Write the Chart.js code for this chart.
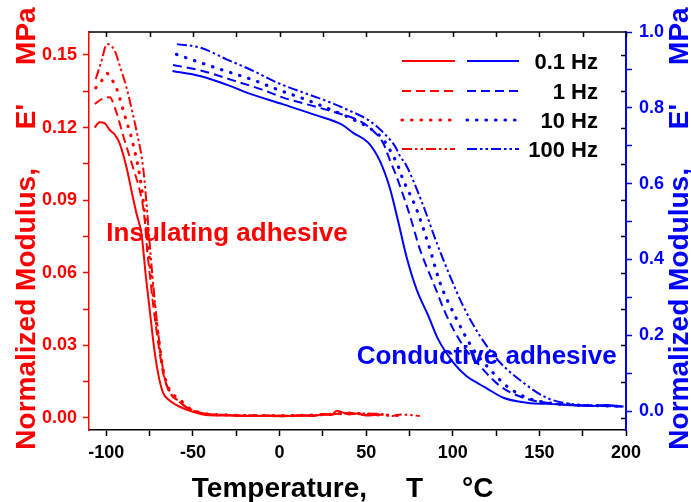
<!DOCTYPE html>
<html lang="en">
<head>
<meta charset="UTF-8">
<title>Normalized Modulus vs Temperature</title>
<script src="https://cdn.jsdelivr.net/npm/chart.js@4.4.1/dist/chart.umd.min.js"></script>
<style>
  html, body { margin: 0; padding: 0; background: #fff; }
  #chart { display: block; }
</style>
</head>
<body>
<canvas id="chart" width="691" height="502"></canvas>
<script>
// ---- data ----
// insulating adhesive (left axis, red)
var insT01 = [-106.7, -104, -101, -98, -95, -92.2, -88.4, -85.5, -82.6, -79.7, -78.6, -77.4, -75, -72.6, -70, -67.2, -64, -60, -55, -50, -45, -40, -30, -20, -10, 0, 10, 20, 25, 30, 33, 36, 40, 45, 50, 55];
var insE01 = [0.120, 0.1222, 0.1218, 0.119, 0.117, 0.1133, 0.1037, 0.094, 0.0845, 0.0762, 0.069, 0.060, 0.045, 0.030, 0.018, 0.0103, 0.0075, 0.0055, 0.0038, 0.0025, 0.0015, 0.0011, 0.0010, 0.0008, 0.0008, 0.0007, 0.0009, 0.0008, 0.0016, 0.0012, 0.0030, 0.0024, 0.0014, 0.0018, 0.0010, 0.0012];

var insT1 = [-106.7, -102, -98, -95, -93.2, -90, -86.5, -83.5, -80.7, -78, -76.5, -75, -73, -71, -69, -67, -65, -62, -58, -54, -50, -45, -40, -30, -20, -10, 0, 10, 20, 30, 40, 50, 60];
var insE1 = [0.1298, 0.1320, 0.1325, 0.128, 0.124, 0.116, 0.1078, 0.101, 0.094, 0.083, 0.070, 0.060, 0.047, 0.036, 0.026, 0.018, 0.013, 0.009, 0.007, 0.0045, 0.003, 0.002, 0.0015, 0.0012, 0.001, 0.001, 0.0009, 0.001, 0.0011, 0.0015, 0.002, 0.0012, 0.0013];

var insT10 = [-106.1, -103, -99.6, -97, -94.2, -89.4, -84.6, -79.7, -77.5, -75.5, -73.5, -71.5, -69.5, -67.5, -65, -62, -58, -54, -50, -45, -40, -30, -20, -10, 0, 10, 20, 30, 40, 50, 60, 70];
var insE10 = [0.1364, 0.139, 0.1424, 0.140, 0.1364, 0.125, 0.1133, 0.0954, 0.082, 0.068, 0.055, 0.042, 0.031, 0.021, 0.014, 0.010, 0.008, 0.005, 0.0032, 0.002, 0.0015, 0.0012, 0.001, 0.001, 0.0009, 0.001, 0.0012, 0.0015, 0.002, 0.0015, 0.0012, 0.001];

var insT100 = [-106.1, -103, -99.6, -95.2, -92, -88.4, -85.5, -82.6, -78.8, -76.5, -74.5, -72.5, -70.5, -68.5, -66.5, -63.5, -60, -55, -50, -45, -40, -30, -20, -10, 0, 10, 20, 30, 40, 50, 60, 65, 70, 75, 81];
var insE100 = [0.1401, 0.147, 0.1545, 0.1518, 0.145, 0.1367, 0.128, 0.1188, 0.1037, 0.086, 0.068, 0.052, 0.038, 0.026, 0.017, 0.011, 0.008, 0.005, 0.0032, 0.002, 0.0015, 0.0012, 0.001, 0.001, 0.0009, 0.001, 0.0012, 0.0015, 0.002, 0.0018, 0.0015, 0.0008, 0.0014, 0.0012, 0.0008];

// conductive adhesive (right axis, blue)
var conT01 = [-61.8, -46, -28.7, -19, 2.1, 21.4, 35.8, 42.5, 51.2, 57.9, 63.7, 68.5, 73.4, 79.1, 85.9, 91.6, 100.3, 108, 115.7, 119.6, 129.2, 142.7, 160, 179.3, 188, 198.6];
var conE01 = [0.897, 0.884, 0.858, 0.840, 0.809, 0.780, 0.756, 0.734, 0.708, 0.660, 0.588, 0.500, 0.405, 0.321, 0.251, 0.189, 0.128, 0.092, 0.070, 0.060, 0.035, 0.022, 0.018, 0.013, 0.016, 0.012];

var conT1 = [-61.5, -45, -28.7, -10, 2.1, 20, 32.9, 44, 50.2, 55, 59.8, 63.7, 66.6, 69.5, 75.3, 81, 88.7, 96.5, 106, 115.7, 127.3, 140.7, 154.2, 170, 185, 199];
var conE1 = [0.913, 0.898, 0.875, 0.848, 0.827, 0.804, 0.787, 0.770, 0.754, 0.735, 0.707, 0.662, 0.630, 0.594, 0.515, 0.427, 0.339, 0.251, 0.172, 0.119, 0.066, 0.035, 0.022, 0.016, 0.014, 0.012];

var conT10 = [-59.5, -45, -34.5, -15, -1.7, 15, 29.1, 44.5, 53.1, 59.8, 65.6, 68.5, 70.5, 79.1, 86.8, 92.6, 101.3, 111.8, 121.5, 131.1, 142.7, 155, 170, 185, 199];
var conE10 = [0.941, 0.918, 0.902, 0.873, 0.849, 0.822, 0.796, 0.765, 0.743, 0.717, 0.673, 0.646, 0.620, 0.532, 0.427, 0.339, 0.251, 0.163, 0.110, 0.066, 0.035, 0.022, 0.016, 0.014, 0.012];

var conT100 = [-59.2, -46, -30.6, -15, -1.7, 15, 27.1, 40.6, 52.2, 59.8, 66.6, 69.5, 73.4, 83, 90.7, 98.4, 106, 115.7, 127.3, 140.7, 154.2, 169.6, 185, 199];
var conE100 = [0.968, 0.959, 0.928, 0.897, 0.867, 0.838, 0.818, 0.792, 0.765, 0.735, 0.699, 0.673, 0.646, 0.541, 0.444, 0.356, 0.277, 0.198, 0.128, 0.075, 0.035, 0.018, 0.014, 0.012];

var freqLabels = ["0.1 Hz", "1 Hz", "10 Hz", "100 Hz"];

// tick positions (minor + major), labels only on the major ones
var xTicks = [-100, -75, -50, -25, 0, 25, 50, 75, 100, 125, 150, 175, 200];
var yLeftTicks = [0, 0.015, 0.03, 0.045, 0.06, 0.075, 0.09, 0.105, 0.12, 0.135, 0.15];
var yRightTicks = [0, 0.1, 0.2, 0.3, 0.4, 0.5, 0.6, 0.7, 0.8, 0.9, 1.0];

var RED = "#ff0000", BLUE = "#0000ff", BLACK = "#000000";
var FONT = "'Liberation Sans', Arial, sans-serif";
// solid, dash, dot, dash-dot-dot
var dashes = [[], [9, 5], [0.5, 9], [10, 3, 2.5, 3, 2.5, 3]];
var widths = [2, 2, 3.2, 2];

function pts(xs, ys) {
  var out = [];
  for (var i = 0; i < xs.length; i++) out.push({ x: xs[i], y: ys[i] });
  return out;
}
function isMult(v, s) {
  return Math.abs(v / s - Math.round(v / s)) < 1e-6;
}
function setTicks(list) {
  return function (scale) {
    scale.ticks = list.map(function (v) { return { value: v }; });
  };
}

function ds(label, xs, ys, color, axis, k) {
  return {
    label: label,
    data: pts(xs, ys),
    yAxisID: axis,
    borderColor: color,
    borderWidth: widths[k],
    borderDash: dashes[k],
    borderCapStyle: k === 2 ? "round" : "butt",
    pointRadius: 0,
    cubicInterpolationMode: "monotone",
    fill: false
  };
}

var datasets = [
  ds("ins 0.1", insT01, insE01, RED, "yL", 0),
  ds("ins 1", insT1, insE1, RED, "yL", 1),
  ds("ins 10", insT10, insE10, RED, "yL", 2),
  ds("ins 100", insT100, insE100, RED, "yL", 3),
  ds("con 0.1", conT01, conE01, BLUE, "yR", 0),
  ds("con 1", conT1, conE1, BLUE, "yR", 1),
  ds("con 10", conT10, conE10, BLUE, "yR", 2),
  ds("con 100", conT100, conE100, BLUE, "yR", 3)
];

// frame, titles, legend, labels
var extras = {
  id: "extras",
  afterDraw: function (chart) {
    var c = chart.ctx, a = chart.chartArea;
    var sx = chart.scales.x, yl = chart.scales.yL, yr = chart.scales.yR;
    c.save();

    // top border with inward ticks
    c.strokeStyle = BLACK;
    c.lineWidth = 1.5;
    c.beginPath();
    c.moveTo(a.left, a.top);
    c.lineTo(a.right, a.top);
    xTicks.forEach(function (t) {
      var px = Math.round(sx.getPixelForValue(t)) + 0.5;
      c.moveTo(px, a.top);
      c.lineTo(px, a.top + 5);
    });
    // inward ticks on right side at left-axis positions
    yLeftTicks.forEach(function (v) {
      var py = Math.round(yl.getPixelForValue(v)) + 0.5;
      c.moveTo(a.right, py);
      c.lineTo(a.right - 5, py);
    });
    c.stroke();

    // axis titles
    c.font = "bold 28px " + FONT;
    c.textBaseline = "alphabetic";
    c.textAlign = "center";
    c.fillStyle = BLACK;
    c.fillText("Temperature,     T     \u00B0C", 342.6, 497);

    var ytitle = "Normalized Modulus,     E'     MPa";
    c.save();
    c.translate(35, 228.5);
    c.rotate(-Math.PI / 2);
    c.fillStyle = RED;
    c.fillText(ytitle, 0, 0);
    c.restore();
    c.save();
    c.translate(688, 228.5);
    c.rotate(-Math.PI / 2);
    c.fillStyle = BLUE;
    c.fillText(ytitle, 0, 0);
    c.restore();

    // annotations
    c.font = "bold 26px " + FONT;
    c.textAlign = "left";
    c.fillStyle = RED;
    c.fillText("Insulating adhesive", sx.getPixelForValue(-100), yl.getPixelForValue(0.073));
    c.fillStyle = BLUE;
    c.fillText("Conductive adhesive", sx.getPixelForValue(44.5), yr.getPixelForValue(0.123));

    // legend
    var rows = [61, 91, 120, 149];
    c.font = "bold 22px " + FONT;
    c.textAlign = "right";
    for (var i = 0; i < 4; i++) {
      c.lineWidth = widths[i];
      c.lineCap = i === 2 ? "round" : "butt";
      c.setLineDash(dashes[i]);
      c.strokeStyle = RED;
      c.beginPath();
      c.moveTo(402, rows[i]);
      c.lineTo(455, rows[i]);
      c.stroke();
      c.strokeStyle = BLUE;
      c.beginPath();
      c.moveTo(467, rows[i]);
      c.lineTo(519, rows[i]);
      c.stroke();
      c.setLineDash([]);
      c.fillStyle = BLACK;
      c.fillText(freqLabels[i], 598, rows[i] + 8);
    }
    c.restore();
  }
};

var tickFont = { family: FONT, size: 18, weight: "bold" };

new Chart(document.getElementById("chart"), {
  type: "line",
  data: { datasets: datasets },
  plugins: [extras],
  options: {
    responsive: false,
    animation: false,
    devicePixelRatio: 1,
    layout: { padding: { top: 32, left: 0, right: 0, bottom: 0 } },
    plugins: { legend: { display: false }, tooltip: { enabled: false } },
    scales: {
      x: {
        type: "linear",
        position: "bottom",
        min: -110,
        max: 200,
        afterBuildTicks: setTicks(xTicks),
        afterFit: function (s) { s.height = 72; },
        ticks: {
          autoSkip: false,
          maxRotation: 0,
          minRotation: 0,
          color: BLACK,
          font: tickFont,
          padding: 6,
          callback: function (v) { return isMult(v, 50) ? String(Math.round(v)) : ""; }
        },
        grid: {
          drawOnChartArea: false,
          tickLength: 6,
          tickWidth: 1.5,
          tickColor: BLACK
        },
        border: { color: BLACK, width: 1.5 }
      },
      yL: {
        type: "linear",
        position: "left",
        min: -0.005,
        max: 0.1595,
        afterBuildTicks: setTicks(yLeftTicks),
        afterFit: function (s) { s.width = 89; },
        ticks: {
          autoSkip: false,
          color: RED,
          font: tickFont,
          padding: 6,
          callback: function (v) { return isMult(v, 0.03) ? v.toFixed(2) : ""; }
        },
        grid: {
          drawOnChartArea: false,
          tickLength: 6,
          tickWidth: 1.5,
          tickColor: RED
        },
        border: { color: RED, width: 1.5 }
      },
      yR: {
        type: "linear",
        position: "right",
        min: -0.05,
        max: 1.0,
        afterBuildTicks: setTicks(yRightTicks),
        afterFit: function (s) { s.width = 65; },
        ticks: {
          autoSkip: false,
          color: BLUE,
          font: tickFont,
          padding: 7,
          callback: function (v) { return isMult(v, 0.2) ? v.toFixed(1) : ""; }
        },
        grid: {
          drawOnChartArea: false,
          tickLength: 6,
          tickWidth: 1.5,
          tickColor: BLUE
        },
        border: { color: BLUE, width: 2 }
      }
    }
  }
});
</script>
</body>
</html>
